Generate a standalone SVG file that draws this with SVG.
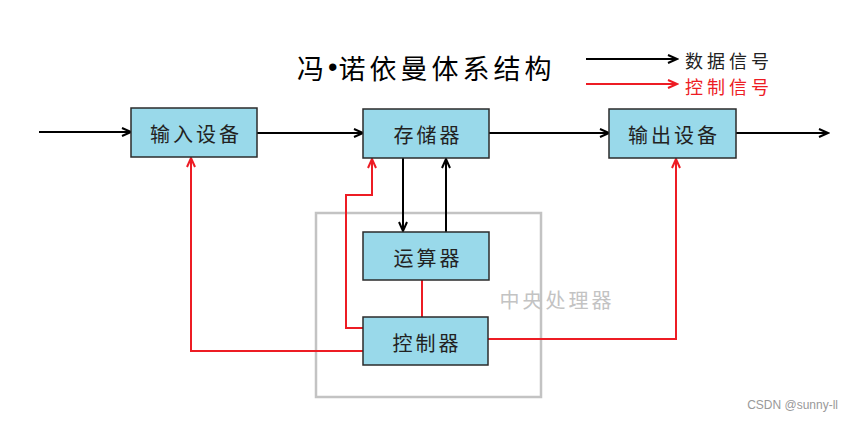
<svg xmlns="http://www.w3.org/2000/svg" width="854" height="423" viewBox="0 0 854 423">
<style>
.box{fill:#99d9ea;stroke:#2b2b2b;stroke-width:1.5}
.lbl{font-family:"Noto Sans CJK SC","Liberation Sans",sans-serif;font-size:20px;fill:#222;text-anchor:middle;dominant-baseline:central;letter-spacing:3px}
.blk{stroke:#000;stroke-width:2;fill:none}
.red{stroke:#ed1c24;stroke-width:2;fill:none}
.leg{font-family:"Noto Sans CJK SC",sans-serif;font-size:18px;dominant-baseline:central;letter-spacing:4px}
</style>
<defs>
<marker id="ab" markerUnits="userSpaceOnUse" markerWidth="12" markerHeight="12" refX="10" refY="5" orient="auto">
<path d="M1,1 L10,5 L1,9" fill="none" stroke="#000" stroke-width="2"/>
</marker>
<marker id="ar" markerUnits="userSpaceOnUse" markerWidth="12" markerHeight="12" refX="10" refY="5" orient="auto">
<path d="M1,1 L10,5 L1,9" fill="none" stroke="#ed1c24" stroke-width="2"/>
</marker>
</defs>
<rect width="854" height="423" fill="#fff"/>
<g id="title">
<text x="297" y="67" font-family="Noto Sans CJK SC,sans-serif" font-size="27" fill="#000" dominant-baseline="central" letter-spacing="4">冯<tspan font-family="Liberation Sans,sans-serif" letter-spacing="1">•</tspan>诺依曼体系结构</text>
</g>
<g id="legend">
<line x1="586" y1="59" x2="677" y2="59" class="blk" marker-end="url(#ab)"/>
<text x="685" y="60" class="leg" fill="#222">数据信号</text>
<line x1="586" y1="84" x2="677" y2="84" class="red" marker-end="url(#ar)"/>
<text x="685" y="86" class="leg" fill="#ed1c24">控制信号</text>
</g>
<g id="cpu">
<rect x="316" y="213" width="225" height="184" fill="none" stroke="#c3c3c3" stroke-width="2.5"/>
<text x="557" y="299" font-family="Noto Sans CJK SC,sans-serif" font-size="20" fill="#c3c3c3" text-anchor="middle" dominant-baseline="central" letter-spacing="3">中央处理器</text>
</g>
<g id="connectors">
<line x1="39" y1="132" x2="131" y2="132" class="blk" marker-end="url(#ab)"/>
<line x1="257" y1="133" x2="363" y2="133" class="blk" marker-end="url(#ab)"/>
<line x1="489" y1="133" x2="609" y2="133" class="blk" marker-end="url(#ab)"/>
<line x1="736" y1="133" x2="828" y2="133" class="blk" marker-end="url(#ab)"/>
<line x1="403" y1="158" x2="403" y2="231" class="blk" marker-end="url(#ab)"/>
<line x1="446" y1="232" x2="446" y2="159" class="blk" marker-end="url(#ab)"/>
<line x1="422" y1="280" x2="422" y2="317" class="red"/>
<polyline points="363,328 346,328 346,195 372,195 372,159" class="red" marker-end="url(#ar)"/>
<polyline points="363,351 191,351 191,158" class="red" marker-end="url(#ar)"/>
<polyline points="488,339 676,339 676,159" class="red" marker-end="url(#ar)"/>
</g>
<g id="input">
<rect x="131" y="108" width="126" height="49" class="box"/>
<text x="196" y="133" class="lbl">输入设备</text>
</g>
<g id="memory">
<rect x="363" y="109" width="126" height="49" class="box"/>
<text x="428" y="134" class="lbl">存储器</text>
</g>
<g id="output">
<rect x="609" y="109" width="127" height="49" class="box"/>
<text x="674" y="134" class="lbl">输出设备</text>
</g>
<g id="alu">
<rect x="363" y="232" width="126" height="48" class="box"/>
<text x="428" y="257" class="lbl">运算器</text>
</g>
<g id="control">
<rect x="363" y="317" width="125" height="48" class="box"/>
<text x="427" y="342" class="lbl">控制器</text>
</g>
<text x="838" y="405" font-family="Liberation Sans,sans-serif" font-size="12" fill="#999" text-anchor="end" dominant-baseline="central">CSDN @sunny-ll</text>
</svg>
